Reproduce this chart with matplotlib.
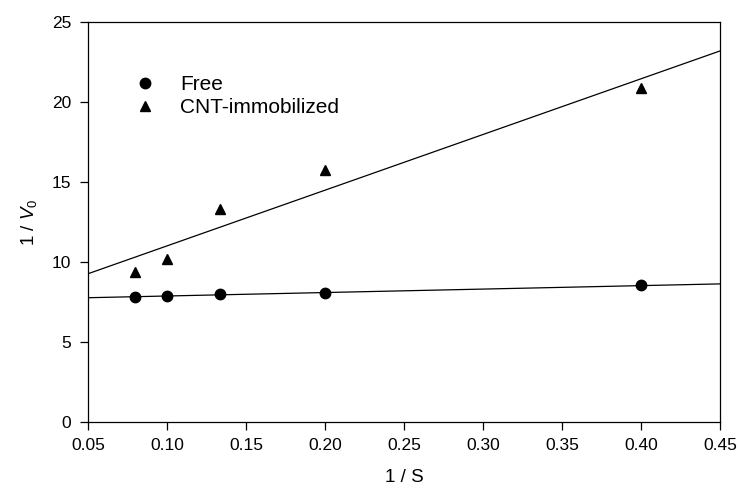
import numpy as np
import matplotlib
matplotlib.use('Agg')
import matplotlib.pyplot as plt

plt.rcParams['font.family'] = ['Liberation Sans', 'DejaVu Sans']
plt.rcParams['mathtext.fontset'] = 'custom'
plt.rcParams['mathtext.rm'] = 'Liberation Sans'
plt.rcParams['mathtext.it'] = 'Liberation Sans:italic'

# data
inv_s = [0.08, 0.10, 0.1333, 0.20, 0.40]
free = [7.82, 7.88, 7.97, 8.03, 8.53]
cnt = [9.38, 10.16, 13.28, 15.74, 20.85]

x_ticks = [0.05, 0.10, 0.15, 0.20, 0.25, 0.30, 0.35, 0.40, 0.45]
y_ticks = [0, 5, 10, 15, 20, 25]

fig = plt.figure(figsize=(7.4, 4.91), dpi=100)
ax = fig.add_axes([0.119, 0.141, 0.854, 0.814])

## linear fits (Lineweaver-Burk)
xs = np.array([0.05, 0.45])
for y in (free, cnt):
    k, b = np.polyfit(inv_s, y, 1)
    ax.plot(xs, k * xs + b, color='black', lw=0.9, zorder=2)

ax.plot(inv_s, free, 'o', color='black', ms=7.5, ls='none', label='Free', zorder=3)
ax.plot(inv_s, cnt, '^', color='black', ms=7.5, ls='none', label='CNT-immobilized', zorder=3)

ax.set_xlim(0.05, 0.45)
ax.set_ylim(0, 25)
ax.set_xticks(x_ticks)
ax.set_xticklabels(['%.2f' % v for v in x_ticks])
ax.set_yticks(y_ticks)
ax.tick_params(direction='out', length=6, width=0.9, pad=6, labelsize=12.5, top=False, right=False)
for s in ax.spines.values():
    s.set_linewidth(0.9)

ax.set_xlabel('1 / S', fontsize=13.5, labelpad=11)
ax.set_ylabel(r'1 / $V_0$', fontsize=13.5, labelpad=9)

ax.legend(loc='upper left', bbox_to_anchor=(0.04, 0.915), frameon=False, fontsize=15,
          handletextpad=1.1, labelspacing=0.2, handlelength=1.2)

plt.savefig('out.png', dpi=100)
